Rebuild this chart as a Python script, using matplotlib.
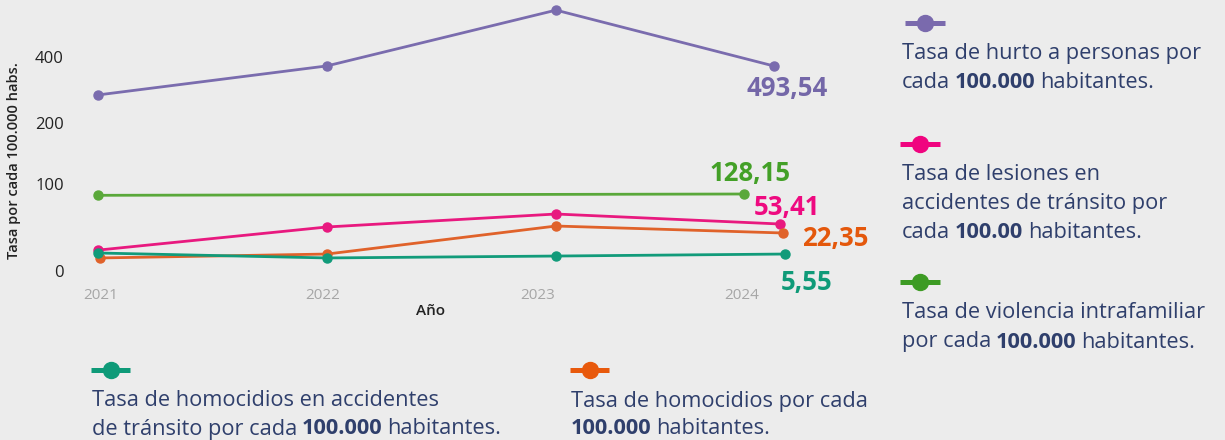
import numpy as np
import matplotlib
matplotlib.use("Agg")
import matplotlib.pyplot as plt
from matplotlib.lines import Line2D

# ---------------- data ----------------
years = [2021, 2022, 2023, 2024]
year_labels = ["2021", "2022", "2023", "2024"]
y_ticks = [0, 100, 200, 400]
y_tick_labels = ["0", "100", "200", "400"]

# x positions as drawn (the 2024 points are slightly shifted in the picture)
hurto_x = [2021, 2022, 2023, 2023.95]
hurto = [285, 373, 542, 373]
violencia_x = [2021, 2023.82]
violencia = [87, 88.5]
lesiones_x = [2021, 2022, 2023, 2023.98]
lesiones = [24, 50.6, 65.5, 54]
homicidios_x = [2021.01, 2022, 2023, 2023.99]
homicidios = [15, 19.5, 51.7, 43.7]
transito_x = [2021, 2022, 2023, 2024]
transito = [20.7, 15, 17.2, 19.5]

label_hurto = "493,54"
label_violencia = "128,15"
label_lesiones = "53,41"
label_homicidios = "22,35"
label_transito = "5,55"

C_HURTO = "#7a6cae"
C_VIOL = "#5aa83a"
C_LES = "#e8197f"
C_HOM = "#e0622a"
C_TRA = "#119b7a"
C_HURTO_T = "#7467a8"
C_VIOL_T = "#43a027"
C_LES_T = "#ee0a80"
C_HOM_T = "#e4580c"
C_TRA_T = "#0f9a78"
C_LEG = "#2f3f6c"
BG = "#ececec"

FONT = "Open Sans"
plt.rcParams["font.family"] = [FONT, "DejaVu Sans"]

# ---------------- scale (non-linear axis as in the picture) ----------------
AV = np.array([0.0, 100.0, 200.0, 400.0])
AH = np.array([0.0, 87.0, 148.0, 214.0])


def _pw(v, xs, ys):
    v = np.asarray(v, dtype=float)
    out = np.interp(v, xs, ys)
    hi = v > xs[-1]
    lo = v < xs[0]
    out = np.where(hi, ys[-1] + (v - xs[-1]) * (ys[-1] - ys[-2]) / (xs[-1] - xs[-2]), out)
    out = np.where(lo, ys[0] + (v - xs[0]) * (ys[1] - ys[0]) / (xs[1] - xs[0]), out)
    return out


def fwd(v):
    return _pw(v, AV, AH)


def inv(h):
    return _pw(h, AH, AV)


W, H = 1225, 440
fig = plt.figure(figsize=(W / 100, H / 100), dpi=100, facecolor=BG)

# main axes placement (pixels)
ax_left, ax_right = 75.1, 808.0
ax_top, ax_bottom = 0.0, 290.0
ax = fig.add_axes([ax_left / W, (H - ax_bottom) / H, (ax_right - ax_left) / W, (ax_bottom - ax_top) / H])
ax.set_facecolor(BG)
ax.set_yscale("function", functions=(fwd, inv))
ax.set_xlim(2020.9, 2020.9 + (ax_right - ax_left) / 229.0)
ax.set_ylim(float(inv(-19.0)), float(inv(271.0)))
for s in ax.spines.values():
    s.set_visible(False)

lw, ms = 2.0, 6.5
ax.plot(hurto_x, hurto, color=C_HURTO, lw=lw, marker="o", ms=ms, zorder=3)
ax.plot(violencia_x, violencia, color=C_VIOL, lw=lw, marker="o", ms=ms, zorder=3)
ax.plot(lesiones_x, lesiones, color=C_LES, lw=lw, marker="o", ms=ms, zorder=3)
ax.plot(homicidios_x, homicidios, color=C_HOM, lw=lw, marker="o", ms=ms, zorder=3)
ax.plot(transito_x, transito, color=C_TRA, lw=lw, marker="o", ms=ms, zorder=4)

ax.set_yticks(y_ticks)
ax.set_yticklabels(y_tick_labels)
ax.yaxis.set_minor_locator(matplotlib.ticker.NullLocator())
ax.tick_params(axis="y", length=0, pad=8, labelsize=12, labelcolor="#222222")
tick_offsets = [0.013, -0.017, -0.079, -0.19]
ax.set_xticks([y + o for y, o in zip(years, tick_offsets)])
ax.set_xticklabels(year_labels)
ax.tick_params(axis="x", length=0, pad=-1.5, labelsize=11, labelcolor="#a6a6a6")

ann_kw = dict(textcoords="offset points", ha="center", va="center", fontsize=18.5,
              fontweight="bold", annotation_clip=False)
ax.annotate(label_hurto, (hurto_x[-1], hurto[-1]), xytext=(9.5, -16), color=C_HURTO_T, **ann_kw)
ax.annotate(label_violencia, (violencia_x[-1], violencia[-1]), xytext=(4.3, 15), color=C_VIOL_T, **ann_kw)
ax.annotate(label_lesiones, (lesiones_x[-1], lesiones[-1]), xytext=(5, 12.2), color=C_LES_T, **ann_kw)
ax.annotate(label_homicidios, (homicidios_x[-1], homicidios[-1]), xytext=(38, -4.3), color=C_HOM_T, **ann_kw)
ax.annotate(label_transito, (transito_x[-1], transito[-1]), xytext=(15.8, -20.2), color=C_TRA_T, **ann_kw)

# ---------------- overlay in pixel coordinates ----------------
ov = fig.add_axes([0, 0, 1, 1])
ov.set_xlim(0, W)
ov.set_ylim(H, 0)
ov.axis("off")
ov.patch.set_visible(False)

ov.text(14, 161, "Tasa por cada 100.000 habs.", rotation=90, ha="center", va="center",
        fontsize=10.5, color="#222222", fontweight="semibold")
ov.text(430, 311, "Año", ha="center", va="center", fontsize=11, color="#222222",
        fontweight="semibold")


def symbol(x0, x1, y, color):
    ov.add_line(Line2D([x0, x1], [y, y], color=color, lw=3.6, solid_capstyle="butt"))
    ov.plot([(x0 + x1) / 2], [y], marker="o", ms=11.5, color=color, lw=0)


LEG_FS = 15.7


def rich_line(x, y, parts):
    prev = None
    for txt, bold in parts:
        w = "bold" if bold else "normal"
        if prev is None:
            prev = ov.text(x, y, txt, ha="left", va="center", fontsize=LEG_FS,
                           color=C_LEG, fontweight=w)
        else:
            prev = ov.annotate(txt, xy=(1, 0), xycoords=prev, xytext=(3.4, 0),
                               textcoords="offset points", ha="left", va="bottom",
                               fontsize=LEG_FS, color=C_LEG, fontweight=w)


symbol(905, 945, 23, "#7a6aad")
rich_line(902, 54, [("Tasa de hurto a personas por", False)])
rich_line(902, 83, [("cada", False), ("100.000", True), ("habitantes.", False)])

symbol(900, 940, 144, "#f0047f")
rich_line(902, 174, [("Tasa de lesiones en", False)])
rich_line(902, 204, [("accidentes de tránsito por", False)])
rich_line(902, 233, [("cada", False), ("100.00", True), ("habitantes.", False)])

symbol(900, 940, 282, "#3d9b24")
rich_line(902, 313, [("Tasa de violencia intrafamiliar", False)])
rich_line(902, 342, [("por cada", False), ("100.000", True), ("habitantes.", False)])

symbol(91, 130, 370, "#0e9a78")
rich_line(92, 401, [("Tasa de homocidios en accidentes", False)])
rich_line(92, 429, [("de tránsito por cada", False), ("100.000", True), ("habitantes.", False)])

symbol(570, 609, 370, "#e8590c")
rich_line(571, 401, [("Tasa de homocidios por cada", False)])
rich_line(571, 429, [("100.000", True), ("habitantes.", False)])

fig.savefig("out.png", dpi=100, facecolor=BG)
